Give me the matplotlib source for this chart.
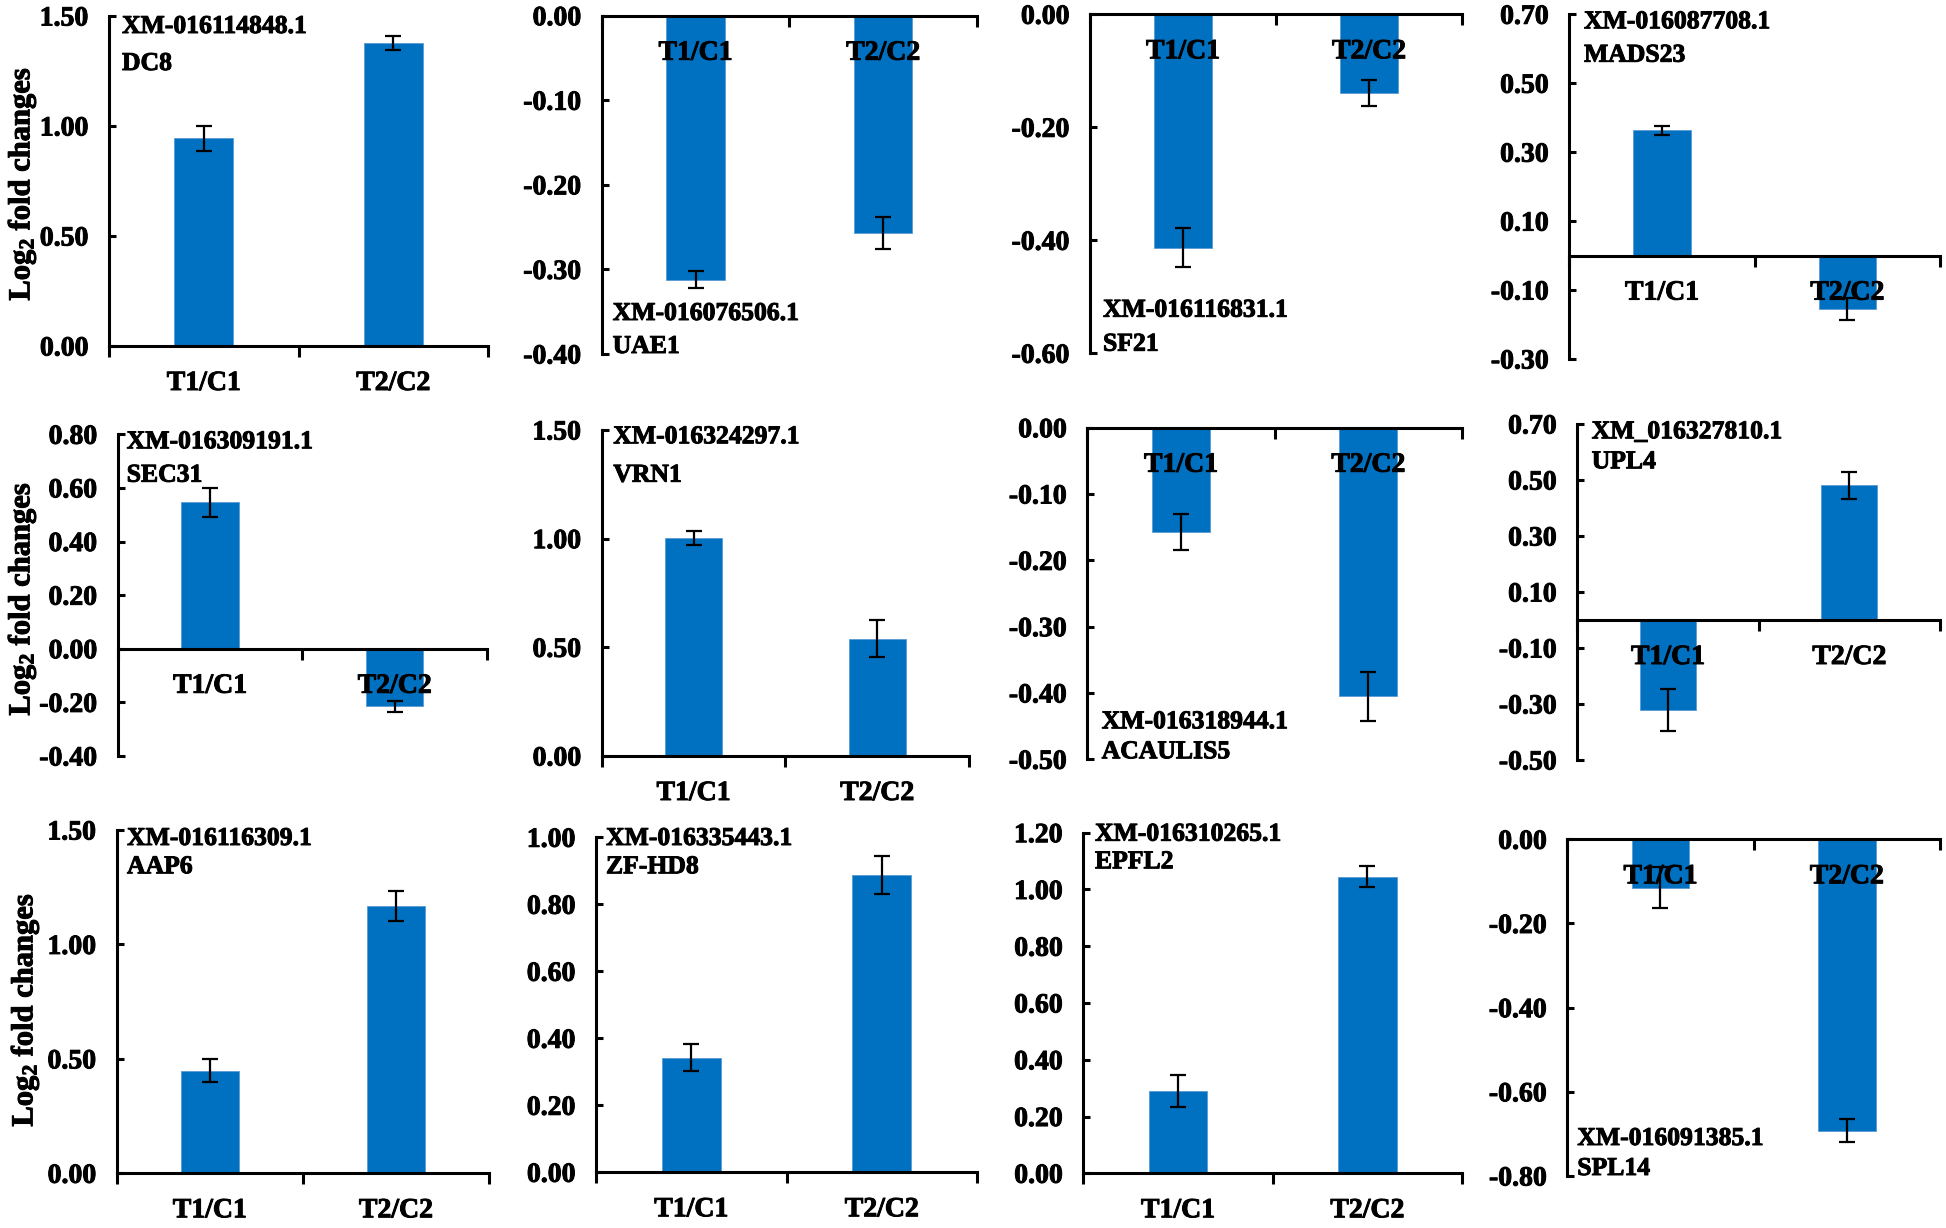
import matplotlib
matplotlib.use("Agg")
import matplotlib.pyplot as plt
import matplotlib.patheffects as pe

# ---------------- data ----------------
gene_ids = ["XM-016114848.1", "XM-016076506.1", "XM-016116831.1", "XM-016087708.1",
            "XM-016309191.1", "XM-016324297.1", "XM-016318944.1", "XM_016327810.1",
            "XM-016116309.1", "XM-016335443.1", "XM-016310265.1", "XM-016091385.1"]
gene_names = ["DC8", "UAE1", "SF21", "MADS23",
              "SEC31", "VRN1", "ACAULIS5", "UPL4",
              "AAP6", "ZF-HD8", "EPFL2", "SPL14"]
categories = ["T1/C1", "T2/C2"]
t1_values = [0.944, -0.312, -0.413, 0.363, 0.546, 1.004, -0.157, -0.321, 0.448, 0.342, 0.290, -0.115]
t2_values = [1.379, -0.257, -0.139, -0.154, -0.215, 0.540, -0.405, 0.481, 1.169, 0.887, 1.045, -0.692]
t1_errors = [0.056, 0.010, 0.035, 0.013, 0.054, 0.033, 0.027, 0.076, 0.050, 0.040, 0.056, 0.048]
t2_errors = [0.032, 0.019, 0.023, 0.032, 0.020, 0.085, 0.037, 0.048, 0.065, 0.057, 0.038, 0.027]
y_ticks = [
    [0.0, 0.5, 1.0, 1.5],
    [-0.4, -0.3, -0.2, -0.1, 0.0],
    [-0.6, -0.4, -0.2, 0.0],
    [-0.3, -0.1, 0.1, 0.3, 0.5, 0.7],
    [-0.4, -0.2, 0.0, 0.2, 0.4, 0.6, 0.8],
    [0.0, 0.5, 1.0, 1.5],
    [-0.5, -0.4, -0.3, -0.2, -0.1, 0.0],
    [-0.5, -0.3, -0.1, 0.1, 0.3, 0.5, 0.7],
    [0.0, 0.5, 1.0, 1.5],
    [0.0, 0.2, 0.4, 0.6, 0.8, 1.0],
    [0.0, 0.2, 0.4, 0.6, 0.8, 1.0, 1.2],
    [-0.8, -0.6, -0.4, -0.2, 0.0],
]
y_label = "Log$_{2}$ fold changes"

# ---------------- layout (pixels) ----------------
W, H = 1946, 1228
# left, right, top, bottom of each axes
axes_px = [
    (109, 488, 16, 346), (601.7, 977, 15.7, 354), (1090, 1462, 14.3, 353.3), (1569.3, 1940, 14.3, 359),
    (117.7, 487, 434.3, 756), (601.7, 969, 430, 756), (1087.3, 1462, 427.7, 759.3), (1577.3, 1940, 424, 760),
    (116.7, 489, 830, 1173.3), (596, 977, 837.3, 1172.3), (1083.3, 1462, 832.7, 1173.3), (1567.3, 1940, 839.3, 1176),
]
# x, baseline of line 1, baseline of line 2 for gene labels
label_px = [
    (122, 33, 70), (612.7, 320, 353), (1103, 316.7, 350.7), (1584, 28.3, 61.7),
    (126.7, 448.3, 481.7), (613.3, 443.3, 481.7), (1101.7, 728.3, 758.3), (1591.7, 438.3, 468.3),
    (127, 845, 873.3), (606, 845, 873.3), (1095, 840.7, 868.3), (1577.3, 1145, 1175),
]
ylabel_px = [(22, 184), (22, 599), (25, 1010)]

BAR_COLOR = "#0070C0"
FONT = "Liberation Serif"
THICK = [pe.withStroke(linewidth=0.7, foreground="black")]

plt.rcParams["font.family"] = [FONT, "DejaVu Serif"]
plt.rcParams["font.weight"] = "bold"
plt.rcParams["mathtext.fontset"] = "custom"
plt.rcParams["mathtext.rm"] = FONT + ":bold"
plt.rcParams["mathtext.bf"] = FONT + ":bold"
plt.rcParams["mathtext.it"] = FONT + ":bold"
plt.rcParams["mathtext.default"] = "rm"

fig = plt.figure(figsize=(W / 100, H / 100), dpi=100)

for i in range(12):
    l, r, t, b = axes_px[i]
    ax = fig.add_axes([l / W, 1 - b / H, (r - l) / W, (b - t) / H])
    ax.set_axisbelow(False)
    xs = [0, 1]
    vals = [t1_values[i], t2_values[i]]
    errs = [t1_errors[i], t2_errors[i]]
    ax.bar(xs, vals, width=0.31, color=BAR_COLOR, edgecolor="#5B9BD5", linewidth=0.6, zorder=1)
    ax.errorbar(xs, vals, yerr=errs, fmt="none", ecolor="black", elinewidth=1.6,
                capsize=6, capthick=1.6, zorder=3)
    ax.set_xlim(-0.5, 1.5)
    ax.set_ylim(y_ticks[i][0], y_ticks[i][-1])
    ax.set_yticks(y_ticks[i])
    ax.set_yticklabels(["{:.2f}".format(v) for v in y_ticks[i]])
    for s in ["top", "right"]:
        ax.spines[s].set_visible(False)
    ax.spines["left"].set_linewidth(2.2)
    ax.spines["bottom"].set_linewidth(2.2)
    ax.spines["bottom"].set_position(("data", 0))
    ax.set_xticks([-0.5, 0.5, 1.5])
    ax.set_xticklabels([])
    ax.set_xticks(xs, minor=True)
    ax.set_xticklabels(categories, minor=True)
    ax.tick_params(axis="x", which="major", direction="out", length=8, width=2.2)
    ax.tick_params(axis="x", which="minor", length=0, pad=18, labelsize=20)
    ax.tick_params(axis="y", direction="in", length=5, width=2.2, pad=15, labelsize=20)
    ax.patch.set_alpha(0)
    for lab in ax.get_yticklabels() + ax.get_xticklabels(minor=True):
        lab.set_path_effects(THICK)

    x0, b1, b2 = label_px[i]
    fig.text(x0 / W, 1 - b1 / H, gene_ids[i], fontsize=18.5, fontweight="bold",
             va="baseline", ha="left", path_effects=THICK)
    fig.text(x0 / W, 1 - b2 / H, gene_names[i], fontsize=18.5, fontweight="bold",
             va="baseline", ha="left", path_effects=THICK)

for x, y in ylabel_px:
    fig.text(x / W, 1 - y / H, y_label, rotation=90, fontsize=22, fontweight="bold",
             ha="center", va="center", path_effects=THICK)

fig.savefig("out.png", dpi=100, facecolor="white")
